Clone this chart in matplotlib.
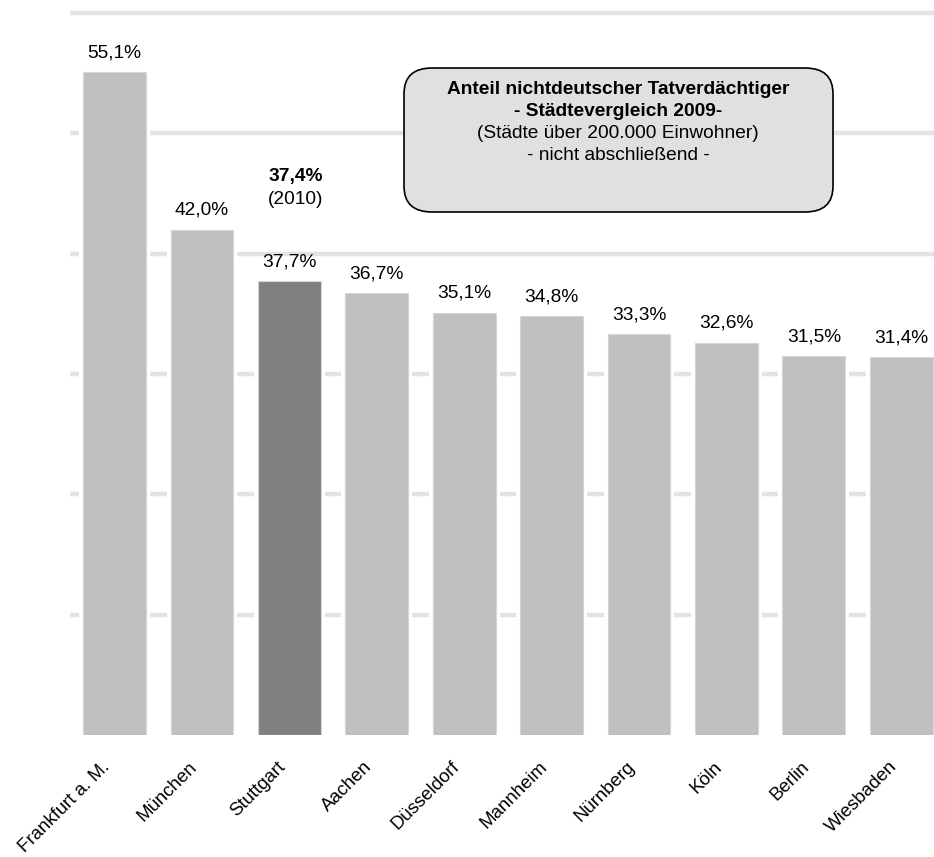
import matplotlib.pyplot as plt
from matplotlib.patches import FancyBboxPatch
from matplotlib.transforms import ScaledTranslation

# data
cities = ["Frankfurt a. M.", "München", "Stuttgart", "Aachen", "Düsseldorf",
          "Mannheim", "Nürnberg", "Köln", "Berlin", "Wiesbaden"]
shares = [55.1, 42.0, 37.7, 36.7, 35.1, 34.8, 33.3, 32.6, 31.5, 31.4]
value_labels = ["55,1%", "42,0%", "37,7%", "36,7%", "35,1%",
                "34,8%", "33,3%", "32,6%", "31,5%", "31,4%"]
highlight = "Stuttgart"
stuttgart_2010 = 37.4
gridlines = [10, 20, 30, 40, 50, 60]

plt.rcParams['font.family'] = ['Liberation Sans', 'DejaVu Sans']
FS = 13.8

fig = plt.figure(figsize=(9.34, 8.57), dpi=100)
ax = fig.add_axes([70/934, 122/857, 864/934, (735-8)/857])

x = list(range(len(cities)))
colors = ['#808080' if c == highlight else '#c0c0c0' for c in cities]

for g in gridlines:
    ax.axhline(g, color='#e3e3e3', lw=3.2, zorder=0)

# white halo behind bars (breaks the gridlines next to the bars)
ax.bar(x, shares, width=0.81, color='white', zorder=1)
ax.bar(x, shares, width=0.72, color=colors, edgecolor='#d6d6d6', lw=0.8, zorder=2)

for xi, v, lab in zip(x, shares, value_labels):
    ax.text(xi, v + 1.6, lab, ha='center', va='center', fontsize=FS)

i = cities.index(highlight)
ax.text(i + 0.07, shares[i] + 8.7, f"{stuttgart_2010:.1f}%".replace('.', ','),
        ha='center', va='center', fontsize=FS, fontweight='bold')
ax.text(i + 0.07, shares[i] + 6.8, "(2010)", ha='center', va='center', fontsize=FS)

ax.set_xlim(-0.51, 9.375)
ax.set_ylim(0, 60 * (735 - 8) / (735 - 13))
ax.set_yticks([])
ax.set_xticks(x)
ax.set_xticklabels(cities, rotation=45, ha='right', va='center',
                   rotation_mode='anchor', fontsize=13.4)
ax.tick_params(axis='x', length=0, pad=21)
shift = ScaledTranslation(-7/100, 0, fig.dpi_scale_trans)
for t in ax.get_xticklabels():
    t.set_transform(t.get_transform() + shift)
for s in ax.spines.values():
    s.set_visible(False)

# title box
box = FancyBboxPatch((404/934, 1 - 212/857), (833-404)/934, (212-68)/857,
                     boxstyle="round,pad=0,rounding_size=0.03",
                     transform=fig.transFigure, facecolor='#e0e0e0',
                     edgecolor='black', lw=1.2, zorder=5)
fig.patches.append(box)
tx = 618/934
fig.text(tx, 1 - 90/857, "Anteil nichtdeutscher Tatverdächtiger", ha='center', va='center',
         fontsize=FS, fontweight='bold', zorder=6)
fig.text(tx, 1 - 112/857, "- Städtevergleich 2009-", ha='center', va='center',
         fontsize=FS, fontweight='bold', zorder=6)
fig.text(tx, 1 - 134/857, "(Städte über 200.000 Einwohner)", ha='center', va='center',
         fontsize=FS, zorder=6)
fig.text(tx, 1 - 156/857, "- nicht abschließend -", ha='center', va='center',
         fontsize=FS, zorder=6)

fig.savefig("out.png", dpi=100)
